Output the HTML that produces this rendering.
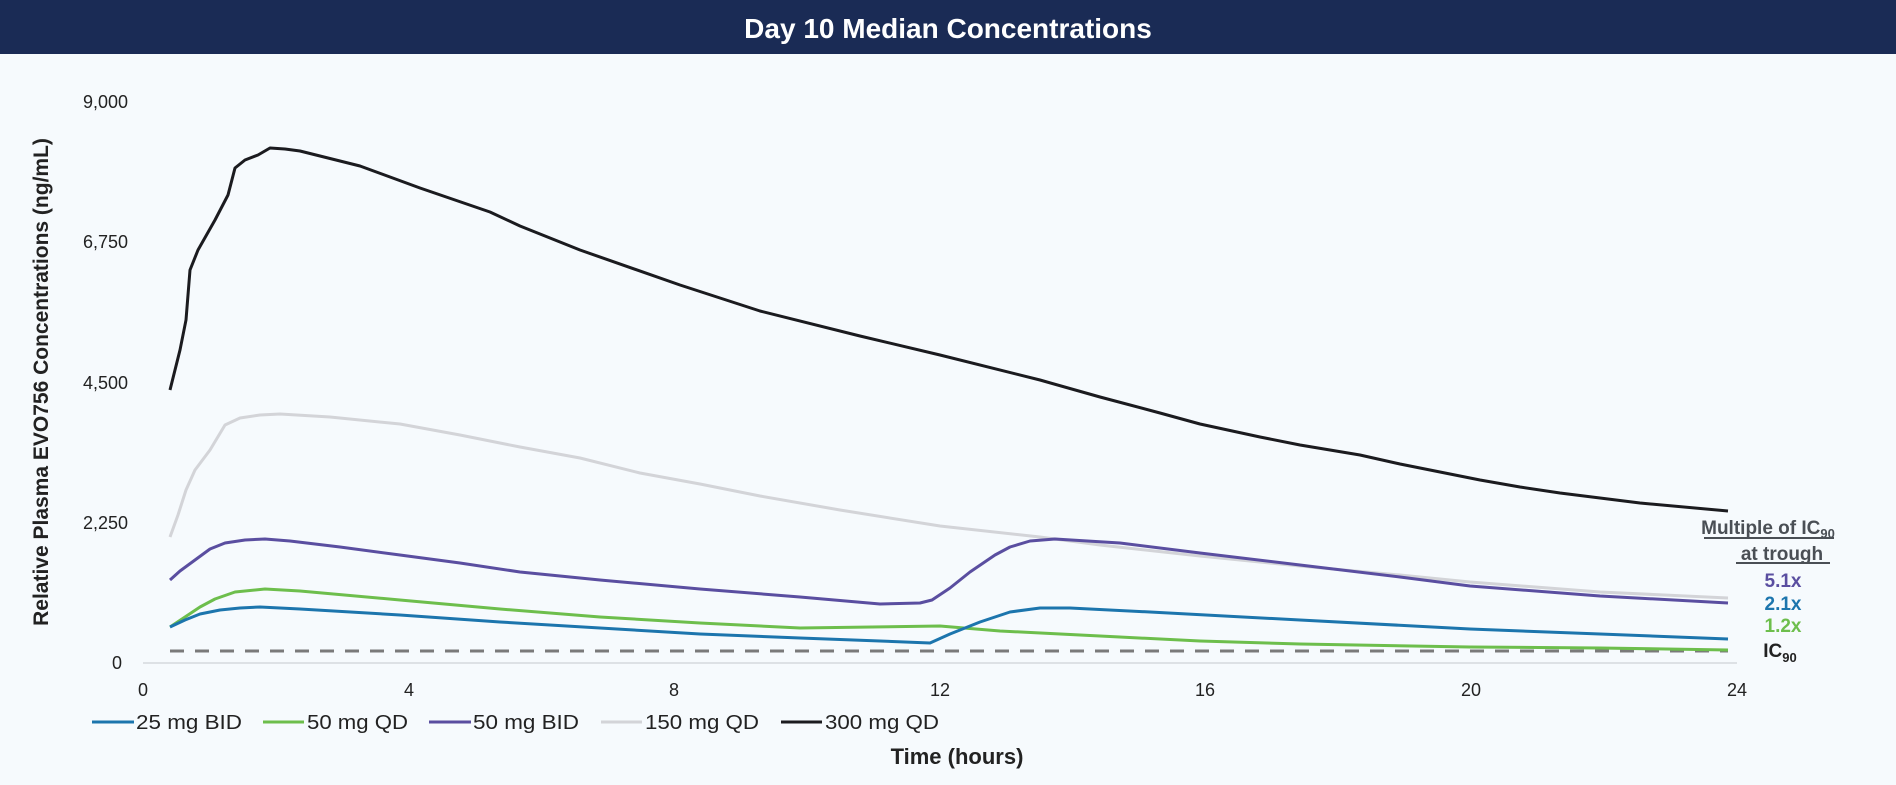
<!DOCTYPE html>
<html><head><meta charset="utf-8"><style>
html,body{margin:0;padding:0;background:#f6fafd;}
svg{display:block;font-family:"Liberation Sans",Arial,sans-serif;}
</style></head><body>
<svg width="1896" height="785" viewBox="0 0 1896 785" xmlns="http://www.w3.org/2000/svg">
<rect width="1896" height="785" fill="#f6fafd"/>
<rect width="1896" height="54" fill="#1a2b55"/>
<text x="948" y="38" text-anchor="middle" fill="#fff" font-size="28" font-weight="bold">Day 10 Median Concentrations</text>
<g font-size="18" fill="#222" text-anchor="end">
<text x="128" y="108">9,000</text>
<text x="128" y="248">6,750</text>
<text x="128" y="389">4,500</text>
<text x="128" y="529">2,250</text>
<text x="122" y="669">0</text>
</g>
<g font-size="18" fill="#222" text-anchor="middle">
<text x="143" y="696">0</text><text x="409" y="696">4</text><text x="674" y="696">8</text>
<text x="940" y="696">12</text><text x="1205" y="696">16</text><text x="1471" y="696">20</text><text x="1737" y="696">24</text>
</g>
<line x1="143" y1="663" x2="1737" y2="663" stroke="#dde1e5" stroke-width="2"/>
<text transform="translate(48,382) rotate(-90)" text-anchor="middle" font-size="21" font-weight="bold" fill="#222">Relative Plasma EVO756 Concentrations (ng/mL)</text>
<text x="957" y="764" text-anchor="middle" font-size="22" font-weight="bold" fill="#222">Time (hours)</text>
<line x1="170" y1="651" x2="1728" y2="651" stroke="#7a7a7a" stroke-width="3" stroke-dasharray="14,11"/>
<g fill="none" stroke-width="3" stroke-linejoin="round">
<polyline stroke="#d3d4d8" points="170,537 178,515 186,490 195,470 210,450 225,425 240,418 260,415 280,414 330,417 400,424 460,435 520,447 580,458 640,473 700,484 760,496 840,510 940,526 1040,537 1100,545 1200,556 1300,566 1400,575 1470,582 1600,592 1728,598"/>
<polyline stroke="#1b1b1f" points="170,390 180,350 186,320 190,270 198,250 215,220 228,195 235,168 245,160 258,155 270,148 285,149 300,151 320,156 360,166 420,188 490,212 520,226 580,250 680,285 760,311 860,336 940,355 1040,380 1100,397 1160,413 1200,424 1260,437 1300,445 1360,455 1400,464 1440,472 1480,480 1520,487 1560,493 1600,498 1640,503 1728,511"/>
<polyline stroke="#5a4ea0" points="170,580 180,571 195,560 210,549 225,543 245,540 265,539 290,541 340,547 400,555 460,563 520,572 600,580 700,589 800,597 880,604 920,603 932,600 950,588 970,572 995,555 1010,547 1030,541 1055,539 1120,543 1200,553 1300,565 1400,577 1470,586 1600,596 1728,603"/>
<polyline stroke="#6dbe4c" points="170,627 185,617 200,607 215,599 235,592 265,589 300,591 400,600 500,609 600,617 700,623 800,628 940,626 1000,631 1100,636 1200,641 1300,644 1470,647 1600,648 1728,650"/>
<polyline stroke="#1c75ad" points="170,627 185,620 200,614 220,610 240,608 260,607 300,609 400,615 500,622 600,628 700,634 800,638 880,641 930,643 950,634 980,622 1010,612 1040,608 1070,608 1150,612 1300,620 1470,629 1600,634 1728,639"/>
</g>
<g font-weight="bold" text-anchor="middle">
<text x="1768" y="534" font-size="19" fill="#4a4f55">Multiple of IC<tspan font-size="13" dy="4">90</tspan></text>
<line x1="1704" y1="538" x2="1834" y2="538" stroke="#4a4f55" stroke-width="2"/>
<text x="1782" y="560" font-size="19" fill="#4a4f55">at trough</text>
<line x1="1736" y1="563" x2="1830" y2="563" stroke="#4a4f55" stroke-width="2"/>
<text x="1783" y="587" font-size="19" fill="#5a4ea0">5.1x</text>
<text x="1783" y="610" font-size="19" fill="#1c75ad">2.1x</text>
<text x="1783" y="632" font-size="19" fill="#6dbe4c">1.2x</text>
<text x="1780" y="657" font-size="19" fill="#222">IC<tspan font-size="13" dy="5">90</tspan></text>
</g>
<g stroke-width="3">
<line x1="92" y1="722" x2="134" y2="722" stroke="#1c75ad"/>
<line x1="263" y1="722" x2="304" y2="722" stroke="#6dbe4c"/>
<line x1="429" y1="722" x2="471" y2="722" stroke="#5a4ea0"/>
<line x1="601" y1="722" x2="642" y2="722" stroke="#d3d4d8"/>
<line x1="781" y1="722" x2="822" y2="722" stroke="#1b1b1f"/>
</g>
<g font-size="20" fill="#222">
<text x="136" y="729" textLength="106" lengthAdjust="spacingAndGlyphs">25 mg BID</text>
<text x="307" y="729" textLength="101" lengthAdjust="spacingAndGlyphs">50 mg QD</text>
<text x="473" y="729" textLength="106" lengthAdjust="spacingAndGlyphs">50 mg BID</text>
<text x="645" y="729" textLength="114" lengthAdjust="spacingAndGlyphs">150 mg QD</text>
<text x="825" y="729" textLength="114" lengthAdjust="spacingAndGlyphs">300 mg QD</text>
</g>
</svg>
</body></html>
